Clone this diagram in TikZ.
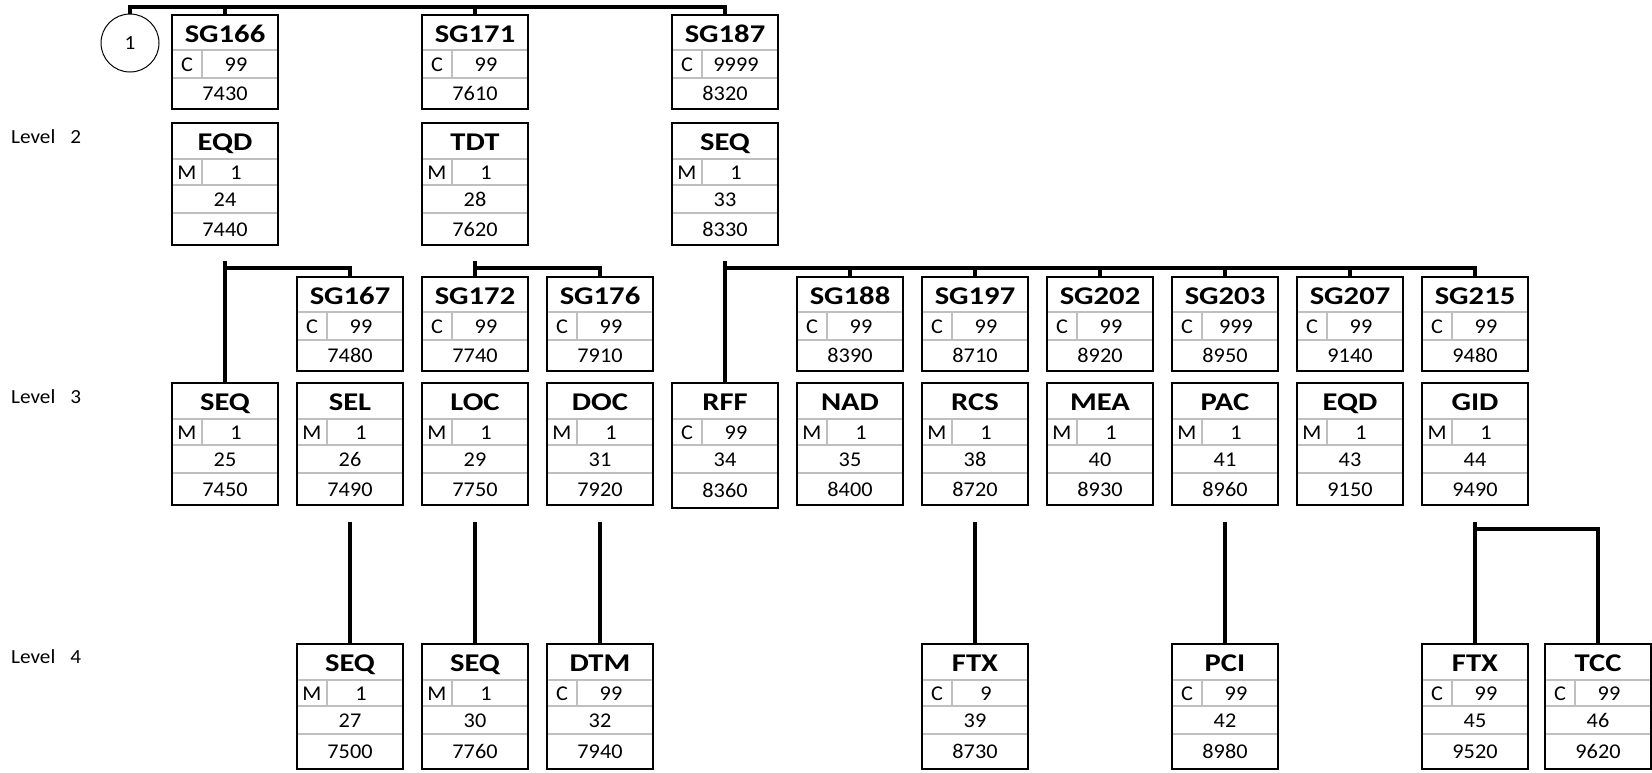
\documentclass[tikz,border=0pt]{standalone}
\usepackage{fontspec}
\setmainfont{Carlito}[FakeStretch=1.06]
\newfontfamily\ttlfont{Carlito}[FakeStretch=1.2]
\usetikzlibrary{calc}
\tikzset{
  conn/.style={line width=3.2pt, black},
  boxln/.style={draw=black, line width=2.6pt, fill=none, inner sep=0pt, outer sep=0pt, minimum width=106pt, rectangle},
  gridln/.style={line width=1.4pt, black!25},
  ttl/.style={inner sep=0pt, anchor=base, font=\ttlfont\fontsize{25.5}{25}\selectfont\bfseries},
  txt/.style={inner sep=0pt, anchor=base, font=\fontsize{21}{21}\selectfont},
  lvl/.style={inner sep=0pt, anchor=base west, font=\fontsize{20}{20}\selectfont},
}
% segment box: name, x, y, title, status, rep, pos, num, height
\newcommand\segbox[9]{%
  \draw[gridln] ({#2},{#3+36}) -- ({#2+106},{#3+36});
  \draw[gridln] ({#2},{#3+62}) -- ({#2+106},{#3+62});
  \draw[gridln] ({#2},{#3+90}) -- ({#2+106},{#3+90});
  \draw[gridln] ({#2+30},{#3+36}) -- ({#2+30},{#3+62});
  \node[ttl] at ({#2+53},{#3+27}) {#4};
  \node[txt] at ({#2+15},{#3+56}) {#5};
  \node[txt] at ({#2+64},{#3+56}) {#6};
  \node[txt] at ({#2+53},{#3+83}) {#7};
  \node[txt] at ({#2+53},{#3+(90+#9)/2+7}) {#8};
  \node[boxln, minimum height=#9pt, anchor=north west] (#1) at ({#2},{#3}) {};
}
% group box: name, x, y, title, status, rep, num
\newcommand\grpbox[7]{%
  \draw[gridln] ({#2},{#3+35}) -- ({#2+106},{#3+35});
  \draw[gridln] ({#2},{#3+63}) -- ({#2+106},{#3+63});
  \draw[gridln] ({#2+30},{#3+35}) -- ({#2+30},{#3+63});
  \node[ttl] at ({#2+53},{#3+27.5}) {#4};
  \node[txt] at ({#2+15},{#3+56}) {#5};
  \node[txt] at ({#2+64},{#3+56}) {#6};
  \node[txt] at ({#2+53},{#3+85}) {#7};
  \node[boxln, minimum height=94pt, anchor=north west] (#1) at ({#2},{#3}) {};
}
\begin{document}
\begin{tikzpicture}[x=1pt,y=-1pt]
\useasboundingbox (0,0) rectangle (1652,772);
% level labels
\node[lvl] (l2) at (11,143) {Level\hspace{15pt}2};
\node[lvl] (l3) at (11,403) {Level\hspace{15pt}3};
\node[lvl] (l4) at (11,663) {Level\hspace{15pt}4};
% circle
\node[draw, circle, line width=1pt, minimum size=58pt, inner sep=0pt, font=\fontsize{20}{20}\selectfont] (c1) at (130,43) {1};
% level 1 groups
\grpbox{sg166}{172}{15}{SG166}{C}{99}{7430}
\grpbox{sg171}{422}{15}{SG171}{C}{99}{7610}
\grpbox{sg187}{672}{15}{SG187}{C}{9999}{8320}
% level 2 segments
\segbox{eqd2}{172}{123}{EQD}{M}{1}{24}{7440}{122}
\segbox{tdt2}{422}{123}{TDT}{M}{1}{28}{7620}{122}
\segbox{seq2}{672}{123}{SEQ}{M}{1}{33}{8330}{122}
% level 3 groups
\grpbox{sg167}{297}{277}{SG167}{C}{99}{7480}
\grpbox{sg172}{422}{277}{SG172}{C}{99}{7740}
\grpbox{sg176}{547}{277}{SG176}{C}{99}{7910}
\grpbox{sg188}{797}{277}{SG188}{C}{99}{8390}
\grpbox{sg197}{922}{277}{SG197}{C}{99}{8710}
\grpbox{sg202}{1047}{277}{SG202}{C}{99}{8920}
\grpbox{sg203}{1172}{277}{SG203}{C}{999}{8950}
\grpbox{sg207}{1297}{277}{SG207}{C}{99}{9140}
\grpbox{sg215}{1422}{277}{SG215}{C}{99}{9480}
% level 3 segments
\segbox{seq3}{172}{383}{SEQ}{M}{1}{25}{7450}{122}
\segbox{sel3}{297}{383}{SEL}{M}{1}{26}{7490}{122}
\segbox{loc3}{422}{383}{LOC}{M}{1}{29}{7750}{122}
\segbox{doc3}{547}{383}{DOC}{M}{1}{31}{7920}{122}
\segbox{rff3}{672}{383}{RFF}{C}{99}{34}{8360}{125}
\segbox{nad3}{797}{383}{NAD}{M}{1}{35}{8400}{122}
\segbox{rcs3}{922}{383}{RCS}{M}{1}{38}{8720}{122}
\segbox{mea3}{1047}{383}{MEA}{M}{1}{40}{8930}{122}
\segbox{pac3}{1172}{383}{PAC}{M}{1}{41}{8960}{122}
\segbox{eqd3}{1297}{383}{EQD}{M}{1}{43}{9150}{122}
\segbox{gid3}{1422}{383}{GID}{M}{1}{44}{9490}{122}
% level 4 segments
\segbox{seq4a}{297}{644}{SEQ}{M}{1}{27}{7500}{125}
\segbox{seq4b}{422}{644}{SEQ}{M}{1}{30}{7760}{125}
\segbox{dtm4}{547}{644}{DTM}{C}{99}{32}{7940}{125}
\segbox{ftx4a}{922}{644}{FTX}{C}{9}{39}{8730}{125}
\segbox{pci4}{1172}{644}{PCI}{C}{99}{42}{8980}{125}
\segbox{ftx4b}{1422}{644}{FTX}{C}{99}{45}{9520}{125}
\segbox{tcc4}{1545}{644}{TCC}{C}{99}{46}{9620}{125}
% connectors level 1
\draw[conn] (c1.north) -- (c1.north |- 0,7) -- (sg187.north |- 0,7) -- (sg187.north);
\draw[conn] (sg166.north |- 0,7) -- (sg166.north);
\draw[conn] (sg171.north |- 0,7) -- (sg171.north);
% EQD group
\draw[conn] (eqd2.south |- 0,261) -- (seq3.north);
\draw[conn] (eqd2.south |- 0,268) -| (sg167.north);
% TDT group
\draw[conn] (tdt2.south |- 0,261) -- (sg172.north);
\draw[conn] (tdt2.south |- 0,268) -| (sg176.north);
% SEQ group
\draw[conn] (seq2.south |- 0,261) -- (rff3.north);
\draw[conn] (seq2.south |- 0,268) -| (sg215.north);
\foreach \g in {sg188,sg197,sg202,sg203,sg207}
  \draw[conn] (\g.north |- 0,268) -- (\g.north);
% level 3 to 4
\draw[conn] (sel3.south |- 0,522) -- (seq4a.north);
\draw[conn] (loc3.south |- 0,522) -- (seq4b.north);
\draw[conn] (doc3.south |- 0,522) -- (dtm4.north);
\draw[conn] (rcs3.south |- 0,522) -- (ftx4a.north);
\draw[conn] (pac3.south |- 0,522) -- (pci4.north);
\draw[conn] (gid3.south |- 0,522) -- (ftx4b.north);
\draw[conn] (gid3.south |- 0,529) -| (tcc4.north);
\end{tikzpicture}
\end{document}
